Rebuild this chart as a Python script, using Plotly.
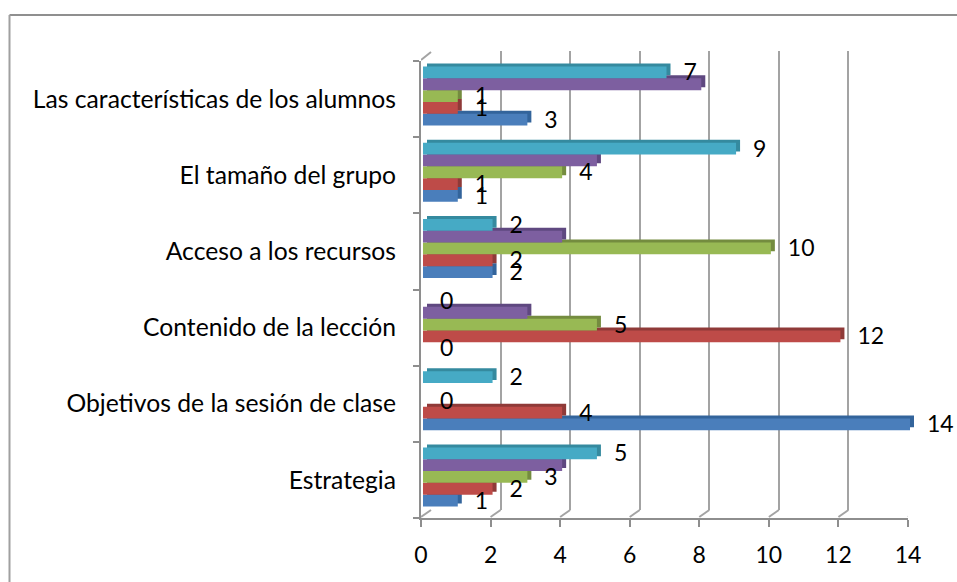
"""Horizontal grouped bars with a faked 3D look, built from stacked subplots."""

import plotly.graph_objects as go

W = 957
H = 582

categories = [
    "Estrategia",
    "Objetivos de la sesión de clase",
    "Contenido de la lección",
    "Acceso a los recursos",
    "El tamaño del grupo",
    "Las características de los alumnos",
]
blue_values = [1, 14, 0, 2, 1, 3]
red_values = [2, 4, 12, 2, 1, 1]
green_values = [3, 0, 5, 10, 4, 1]
purple_values = [4, 0, 3, 4, 5, 8]
cyan_values = [5, 2, 0, 2, 9, 7]

x_ticks = [0, 2, 4, 6, 8, 10, 12, 14]

front_colors = ["#4a7ebb", "#be4b48", "#98b954", "#7d5fa0", "#46aac5"]
side_colors = ["#33649b", "#8f3a38", "#748c3f", "#5f4880", "#358a9f"]
series = [blue_values, red_values, green_values, purple_values, cyan_values]
# the purple series has no data labels in the original
labelled = [True, True, True, False, True]

FONT = "Lato"
LABEL_SIZE = 23
CAT_SIZE = 24.7
AXIS_GRAY = "#8e8e8e"
GRID_GRAY = "#a3a3a3"


def fx(px):
    return px / W


def fy(px):
    return 1 - px / H


def px_x(left, right):
    return [fx(left), fx(right)]


def px_y(top, bottom):
    return [fy(bottom), fy(top)]


def hidden_axis(domain, anchor, **kw):
    return dict(domain=domain, anchor=anchor, visible=False, **kw)


def cat_axis(domain, anchor):
    return hidden_axis(domain, anchor, type="category", categoryorder="array",
                       categoryarray=categories, range=[-0.5, 5.5])


fig = go.Figure()

# back wall gridlines live on the first subplot
fig.add_trace(
    go.Scatter(x=[0] * 6, y=categories, xaxis="x", yaxis="y", mode="none", showlegend=False)
)

for vals, color in zip(series, side_colors):
    fig.add_trace(
        go.Bar(y=categories, x=vals, orientation="h", marker=dict(color=color, line_width=0),
               xaxis="x2", yaxis="y2", showlegend=False)
    )

for vals, color in zip(series, front_colors):
    fig.add_trace(
        go.Bar(y=categories, x=vals, orientation="h", marker=dict(color=color, line_width=0),
               xaxis="x3", yaxis="y3", showlegend=False)
    )

for vals, show in zip(series, labelled):
    fig.add_trace(
        go.Bar(
            y=categories,
            x=vals,
            orientation="h",
            marker=dict(color="rgba(0,0,0,0)", line_width=0),
            text=[str(v) for v in vals] if show else None,
            textposition="outside" if show else "none",
            textfont=dict(family=FONT, size=LABEL_SIZE, color="#000000"),
            cliponaxis=False,
            constraintext="none",
            xaxis="x4",
            yaxis="y4",
            showlegend=False,
        )
    )

# front axes, only here for the ticks and labels
fig.add_trace(
    go.Scatter(x=[0] * 6, y=categories, xaxis="x5", yaxis="y5", mode="none", showlegend=False)
)

shapes = [
    # outer frame
    dict(type="line", xref="paper", yref="paper", x0=fx(9.5), x1=1, y0=fy(15), y1=fy(15),
         line=dict(color="#8f8f8f", width=2)),
    dict(type="line", xref="paper", yref="paper", x0=fx(9.5), x1=fx(9.5), y0=0, y1=fy(15),
         line=dict(color="#a0a0a0", width=2)),
    # diagonal joining the side wall to the back wall at the top
    dict(type="line", xref="x5", yref="paper", xsizemode="pixel", xanchor=0, x0=0, x1=10,
         ysizemode="pixel", yanchor=fy(60), y0=0, y1=8,
         line=dict(color=GRID_GRAY, width=2)),
]
# floor diagonals from each tick to its gridline
for t in x_ticks:
    shapes.append(
        dict(type="line", xref="x5", yref="paper", xsizemode="pixel", xanchor=t, x0=0, x1=10,
             ysizemode="pixel", yanchor=fy(517), y0=0, y1=7,
             line=dict(color=GRID_GRAY, width=2))
    )

rng = [0, 14]

fig.update_layout(
    width=W,
    height=H,
    margin=dict(l=0, r=0, t=0, b=0, pad=0, autoexpand=False),
    autosize=False,
    paper_bgcolor="#ffffff",
    plot_bgcolor="rgba(0,0,0,0)",
    barmode="group",
    bargap=0.225,
    bargroupgap=0,
    showlegend=False,
    shapes=shapes,
    # back wall
    xaxis=dict(domain=px_x(431, 918), anchor="y", range=rng, tickvals=x_ticks, showgrid=True,
               gridcolor=GRID_GRAY, gridwidth=2, showticklabels=False, ticks="", zeroline=False,
               showline=False),
    yaxis=cat_axis(px_y(51, 510), "x"),
    # bar depth
    xaxis2=hidden_axis(px_x(427, 914), "y2", range=rng),
    yaxis2=cat_axis(px_y(55, 512), "x2"),
    # bar fronts
    xaxis3=hidden_axis(px_x(423, 910), "y3", range=rng),
    yaxis3=cat_axis(px_y(58, 515), "x3"),
    # data labels, pushed right of the bars
    xaxis4=hidden_axis(px_x(437, 924), "y4", range=rng),
    yaxis4=cat_axis(px_y(57, 514), "x4"),
    # front axes
    xaxis5=dict(domain=px_x(421, 908), anchor="y5", range=rng, tickvals=x_ticks, showgrid=False,
                zeroline=False, showline=True, linecolor=AXIS_GRAY, linewidth=2, ticks="outside",
                ticklen=7, tickwidth=2, tickcolor=AXIS_GRAY,
                tickfont=dict(family=FONT, size=LABEL_SIZE, color="#000000"),
                ticklabelstandoff=8),
    yaxis5=dict(domain=px_y(61, 518), anchor="x5", type="category", categoryorder="array",
                categoryarray=categories, range=[-0.5, 5.5], tickmode="array",
                tickvals=categories, ticktext=categories, tickson="boundaries", showgrid=False,
                zeroline=False, showline=True, linecolor=AXIS_GRAY, linewidth=2, ticks="outside",
                ticklen=6, tickwidth=2, tickcolor=AXIS_GRAY,
                tickfont=dict(family=FONT, size=CAT_SIZE, color="#000000"),
                ticklabelstandoff=18),
)

# drop the page's default body margin so the figure fills the window
fig.write_html("out.html", default_width=f"{W}px", default_height=f"{H}px",
               config={"displayModeBar": False},
               post_script="document.body.style.margin = '0';")
